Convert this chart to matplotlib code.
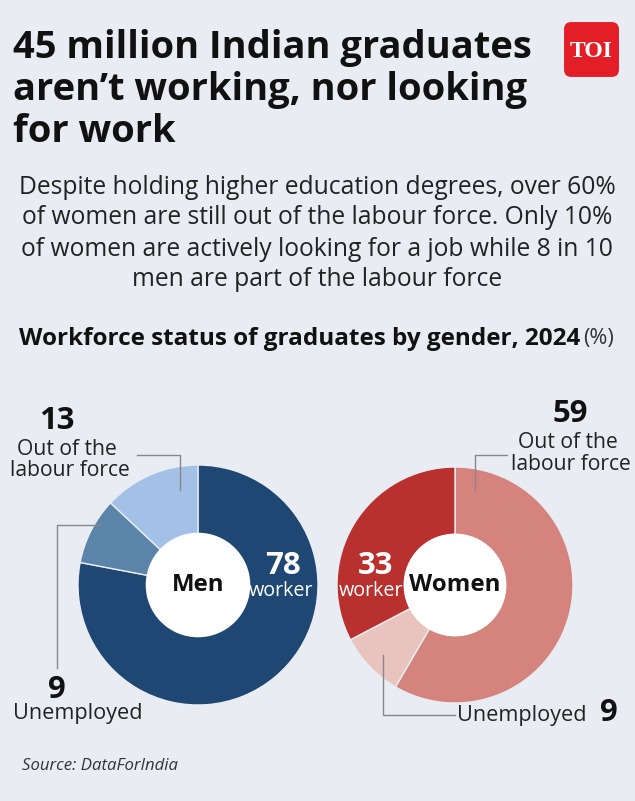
import matplotlib
matplotlib.use("Agg")
import matplotlib.pyplot as plt
from matplotlib.patches import Circle, FancyBboxPatch

men_labels = ["worker", "Unemployed", "Out of the labour force"]
men_values = [78, 9, 13]
women_labels = ["Out of the labour force", "Unemployed", "worker"]
women_values = [59, 9, 33]
men_colors = ["#1f4773", "#5b85a8", "#a3c1e6"]
women_colors = ["#d4837d", "#e9c4bf", "#b8312f"]

W, H = 635, 801
BG = "#e9ecf3"
fig = plt.figure(figsize=(W/100, H/100), dpi=100, facecolor=BG)
plt.rcParams['font.family'] = ['Open Sans', 'DejaVu Sans']
S = 0.72 * 1.2

def T(x, y, s, size, **kw):
    fig.text(x/W, 1-y/H, s, fontsize=size*S, **kw)

def L(xs, ys):
    fig.add_artist(plt.Line2D([x/W for x in xs], [1-y/H for y in ys], color="#888888", lw=1))

for i, line in enumerate(["45 million Indian graduates", "aren\u2019t working, nor looking", "for work"]):
    T(13, 48+i*42, line, 31.8, fontweight="bold", color="#111111", va="center")

sub = ["Despite holding higher education degrees, over 60%",
       "of women are still out of the labour force. Only 10%",
       "of women are actively looking for a job while 8 in 10",
       "men are part of the labour force"]
for i, line in enumerate(sub):
    T(317, 187+i*31, line, 20.5, ha="center", va="center", color="#222222")

T(19, 339, "Workforce status of graduates by gender, 2024", 20.2, fontweight="bold", va="center", color="#111111")
T(583, 339, "(%)", 18, va="center", color="#333333")

# logo
ax_logo = fig.add_axes([561/W, 1-80/H, 61/W, 61/H])
ax_logo.axis("off")
ax_logo.add_patch(FancyBboxPatch((0.05, 0.05), 0.9, 0.9, boxstyle="round,pad=0,rounding_size=0.12", fc="#e41e26", ec="none"))
ax_logo.text(0.5, 0.47, "TOI", color="white", fontsize=17, fontweight="bold", ha="center", va="center", family=["Liberation Serif", "DejaVu Serif"])

def donut(cx, cy, r, vals, cols, label):
    ax = fig.add_axes([(cx-r)/W, (H-cy-r)/H, 2*r/W, 2*r/H])
    ax.pie(vals, colors=cols, startangle=90, counterclock=False, radius=1,
           wedgeprops=dict(linewidth=1, edgecolor=BG))
    ax.add_patch(Circle((0, 0), 0.43, color="white"))
    ax.text(0, 0, label, ha="center", va="center", fontsize=20*S, fontweight="bold", color="#111111")
    ax.set_xlim(-1, 1); ax.set_ylim(-1, 1); ax.set_aspect("equal"); ax.axis("off")

donut(198, 585, 120, men_values, men_colors, "Men")
donut(455, 585, 118, women_values, women_colors, "Women")

# men labels
T(283, 566, str(men_values[0]), 26, fontweight="bold", color="white", ha="center", va="center")
T(281, 591, men_labels[0], 16.5, color="white", ha="center", va="center")
T(57, 421, str(men_values[2]), 26, fontweight="bold", color="#111111", ha="center", va="center")
T(67, 449, "Out of the", 17.6, color="#222222", ha="center", va="center")
T(70, 470, "labour force", 17.6, color="#222222", ha="center", va="center")
L([180, 180, 137], [490, 455, 455])
L([100, 57, 57], [525, 525, 668])
T(57, 690, str(men_values[1]), 26, fontweight="bold", color="#111111", ha="center", va="center")
T(78, 714, men_labels[1], 18, color="#222222", ha="center", va="center")

# women labels
T(376, 566, str(women_values[2]), 26, fontweight="bold", color="white", ha="center", va="center")
T(371, 591, women_labels[2], 16.5, color="white", ha="center", va="center")
T(570, 414, str(women_values[0]), 26, fontweight="bold", color="#111111", ha="center", va="center")
T(568, 443, "Out of the", 17.6, color="#222222", ha="center", va="center")
T(571, 465, "labour force", 17.6, color="#222222", ha="center", va="center")
L([475, 475, 507], [490, 455, 455])
L([383, 383, 455], [655, 715, 715])
T(522, 715, women_labels[1], 18, color="#222222", ha="center", va="center")
T(609, 713, str(women_values[1]), 26, fontweight="bold", color="#111111", ha="center", va="center")

T(22, 766, "Source: DataForIndia", 14, style="italic", color="#333333", va="center")

fig.savefig("out.png", dpi=100, facecolor=BG)
